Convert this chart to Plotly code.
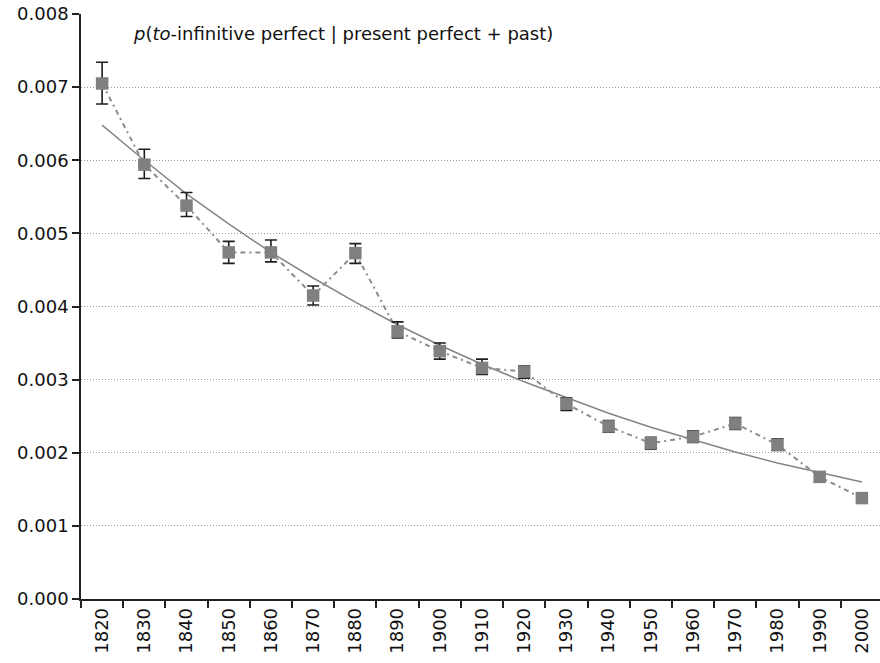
import plotly.graph_objects as go

decades = ["1820", "1830", "1840", "1850", "1860", "1870", "1880", "1890", "1900", "1910",
           "1920", "1930", "1940", "1950", "1960", "1970", "1980", "1990", "2000"]
p_values = [0.00705, 0.00594, 0.00538, 0.00474, 0.00474, 0.00415, 0.00473, 0.00366, 0.00339, 0.00316,
            0.00311, 0.00267, 0.00236, 0.00213, 0.00222, 0.00240, 0.00211, 0.00167, 0.00138]
ci_upper = [0.00734, 0.00615, 0.00556, 0.00489, 0.00491, 0.00428, 0.00486, 0.00379, 0.00350, 0.00328,
            0.00319, 0.00275, 0.00244, 0.00221, 0.00230, 0.00248, 0.00219, 0.00174, 0.00144]
ci_lower = [0.00677, 0.00575, 0.00523, 0.00459, 0.00461, 0.00402, 0.00459, 0.00357, 0.00328, 0.00307,
            0.00302, 0.00258, 0.00228, 0.00205, 0.00214, 0.00232, 0.00203, 0.00160, 0.00131]
trend = [0.00648, 0.00600, 0.00554, 0.00513, 0.00474, 0.00439, 0.00406, 0.00375, 0.00347, 0.00321,
         0.00297, 0.00275, 0.00254, 0.00235, 0.00218, 0.00201, 0.00186, 0.00173, 0.00160]
y_ticks = [0.000, 0.001, 0.002, 0.003, 0.004, 0.005, 0.006, 0.007, 0.008]

err_plus = [u - v for u, v in zip(ci_upper, p_values)]
err_minus = [v - l for v, l in zip(p_values, ci_lower)]

FONT = "DejaVu Sans"

fig = go.Figure()
fig.add_trace(go.Scatter(x=decades, y=trend, mode="lines",
                         line=dict(color="#858585", width=1.5), hoverinfo="skip"))
fig.add_trace(go.Scatter(x=decades, y=p_values, mode="lines",
                         line=dict(color="#8c8c8c", width=2, dash="5px,4px,2px,4px"), hoverinfo="skip"))
fig.add_trace(go.Scatter(
    x=decades, y=p_values, mode="markers",
    marker=dict(symbol="square", size=12.5, color="#808080", line=dict(width=0)),
    error_y=dict(type="data", symmetric=False, array=err_plus, arrayminus=err_minus,
                 color="#1e1e1e", thickness=1.6, width=6),
))

fig.add_annotation(
    x=0.0622, y=0.967, xref="paper", yref="paper", xanchor="left", yanchor="middle",
    text="<i>p</i>(<i>to</i>-infinitive perfect | present perfect + past)",
    showarrow=False, font=dict(family=FONT, size=18, color="#111"))

# the plot area in the reference runs slightly past the right edge of the window
fig.update_layout(
    width=883, height=663,
    margin=dict(l=81, r=0, t=14, b=64),
    paper_bgcolor="white", plot_bgcolor="white",
    showlegend=False,
    font=dict(family=FONT, size=18, color="#111"),
    xaxis=dict(type="category", range=[-0.5, 18.5], tickson="boundaries",
               ticks="outside", ticklen=7, tickcolor="#222", tickwidth=1.5,
               tickangle=-90, showgrid=False, showline=True, linecolor="#222", linewidth=1.5,
               tickfont=dict(family=FONT, size=18, color="#111")),
    yaxis=dict(range=[0, 0.008], tickvals=y_ticks, tickformat=".3f",
               ticks="outside", ticklen=7, tickcolor="#222", tickwidth=1.5,
               showline=True, linecolor="#222", linewidth=1.5, zeroline=False,
               showgrid=True, gridcolor="#9a9a9a", gridwidth=1, griddash="1px,2px",
               tickfont=dict(family=FONT, size=18, color="#111")),
)

fig.write_html("out.html", config={"displayModeBar": False},
               post_script="document.body.style.margin='0';document.body.style.overflow='hidden';")
